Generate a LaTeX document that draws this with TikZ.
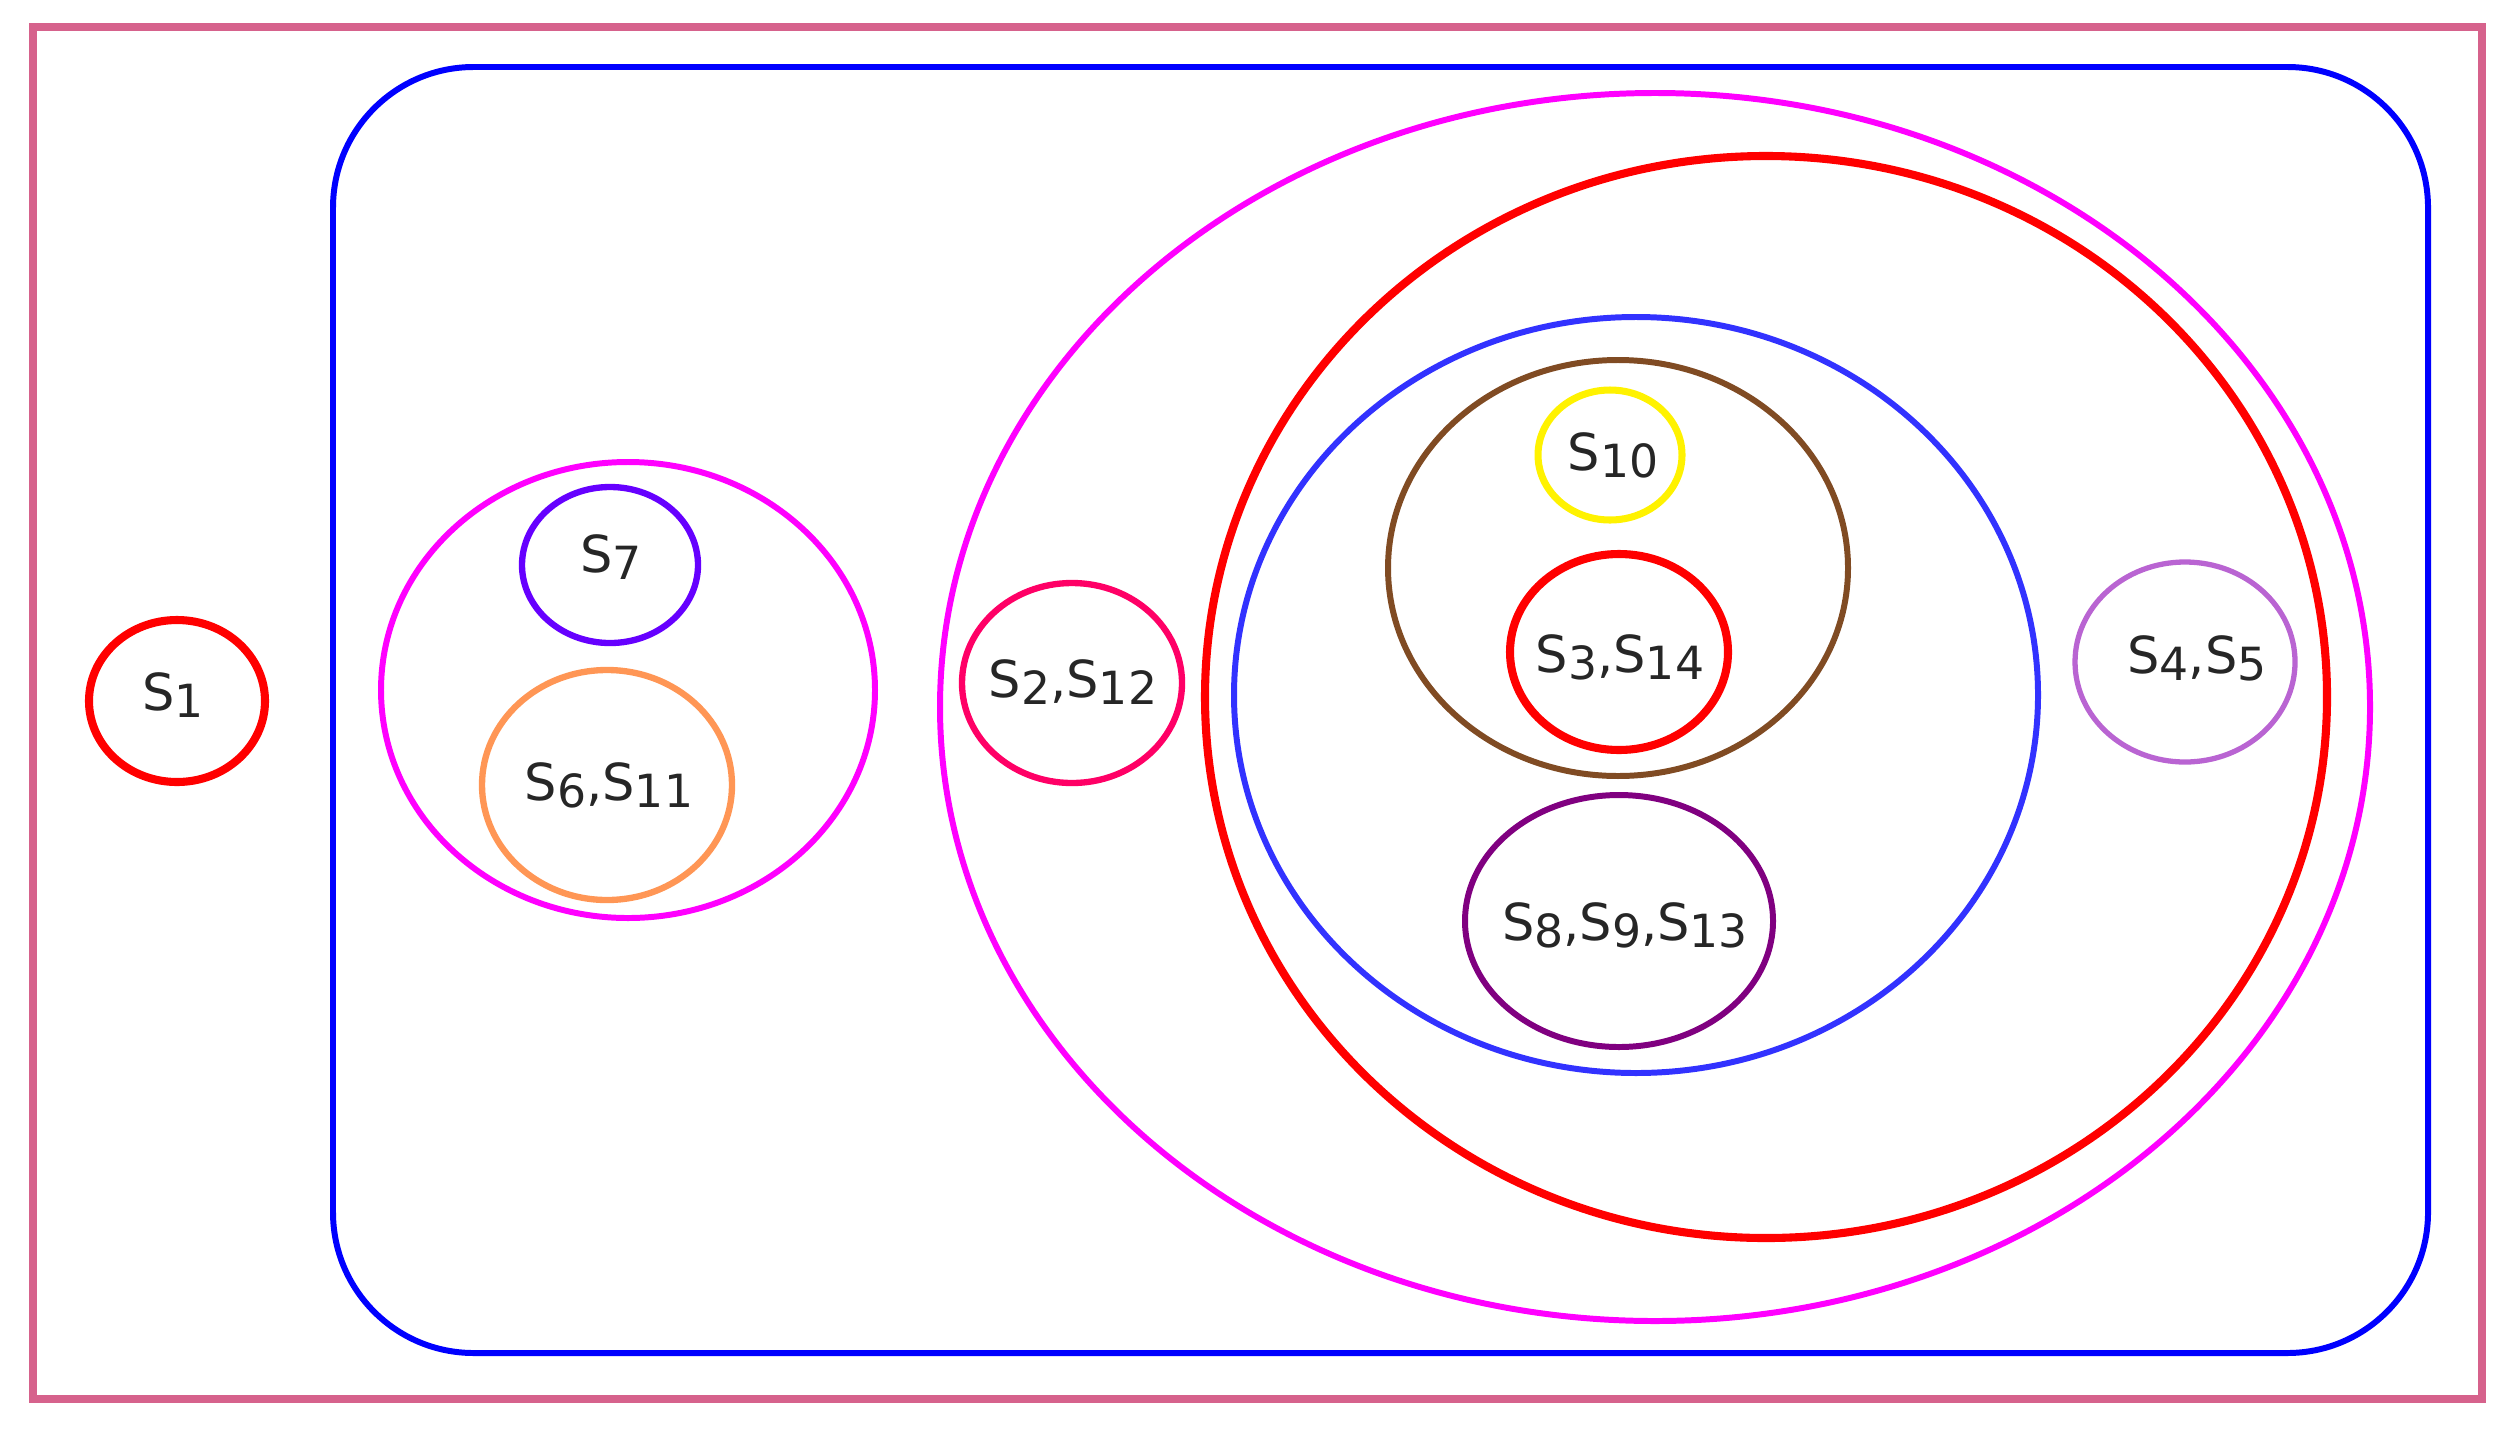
\documentclass[tikz,border=0pt]{standalone}
\usepackage{fontspec}
\setmainfont{DejaVu Sans}
\usepackage{tikz}
\usetikzlibrary{calc}
\usepackage{xcolor}

\definecolor{framepink}{RGB}{214,98,140}
\definecolor{setblue}{RGB}{0,0,255}
\definecolor{ringmagenta}{RGB}{255,0,255}
\definecolor{ringblue}{RGB}{50,50,255}
\definecolor{ringbrown}{RGB}{128,75,35}
\definecolor{ringpurple}{RGB}{128,0,128}
\definecolor{ringorchid}{RGB}{185,100,210}
\definecolor{ringviolet}{RGB}{102,0,255}
\definecolor{ringorange}{RGB}{255,150,85}
\definecolor{ringrose}{RGB}{255,0,102}

\newcommand{\Sn}[1]{S\raisebox{-2pt}{\fontsize{13}{13}\selectfont #1}}

\begin{document}
\begin{tikzpicture}[x=0.01cm, y=-0.01cm,
	lbl/.style={font=\fontsize{14.5}{17}\selectfont, text=black!85, inner sep=0pt}]
	\useasboundingbox (0,0) rectangle (2519,1430);
	% centres
	\coordinate (C1) at (177,701);
	\coordinate (L) at (628,690);
	\coordinate (C7) at (610,565);
	\coordinate (C611) at (607,785);
	\coordinate (C212) at (1072,683);
	\coordinate (M) at (1655,707);
	\coordinate (R) at (1766,697);
	\coordinate (B) at (1636,695);
	\coordinate (W) at (1618,568);
	\coordinate (C10) at (1610,455);
	\coordinate (C314) at (1619,652);
	\coordinate (C8913) at (1619,921);
	\coordinate (C45) at (2185,662);
	% frames
	\draw [framepink, line width=2.3pt] (33,27) rectangle (2482,1399);
	\draw [setblue, line width=1.7pt, rounded corners=40pt] (333,67) rectangle (2428,1353);
	% rings
	\draw [red, line width=2.3pt] (C1) ellipse [x radius=88, y radius=81];
	\draw [ringmagenta, line width=1.7pt] (L) ellipse [x radius=247, y radius=228];
	\draw [ringviolet, line width=1.8pt] (C7) ellipse [x radius=88, y radius=78];
	\draw [ringorange, line width=1.8pt] (C611) ellipse [x radius=125, y radius=115];
	\draw [ringrose, line width=1.8pt] (C212) ellipse [x radius=110, y radius=100];
	\draw [ringmagenta, line width=1.7pt] (M) ellipse [x radius=715, y radius=614];
	\draw [red, line width=2.3pt] (R) ellipse [x radius=561, y radius=541];
	\draw [ringblue, line width=1.7pt] (B) ellipse [x radius=402, y radius=378];
	\draw [ringbrown, line width=1.7pt] (W) ellipse [x radius=230, y radius=208];
	\draw [yellow, line width=2pt] (C10) ellipse [x radius=72, y radius=65];
	\draw [red, line width=2.3pt] (C314) ellipse [x radius=109, y radius=98];
	\draw [ringpurple, line width=1.7pt] (C8913) ellipse [x radius=154, y radius=126];
	\draw [ringorchid, line width=1.5pt] (C45) ellipse [x radius=110, y radius=100];
	% labels
	\node (s1) at ($(C1)+(-4,-6)$) [lbl] {\Sn{1}};
	\node (s7) at ($(C7)+(1,-8)$) [lbl] {\Sn{7}};
	\node (s611) at ($(C611)+(2,0)$) [lbl] {\Sn{6},\Sn{11}};
	\node (s212) at ($(C212)+(1,-1)$) [lbl] {\Sn{2},\Sn{12}};
	\node (s10) at ($(C10)+(3,0)$) [lbl] {\Sn{10}};
	\node (s314) at ($(C314)+(1,5)$) [lbl] {\Sn{3},\Sn{14}};
	\node (s8913) at ($(C8913)+(6,4)$) [lbl] {\Sn{8},\Sn{9},\Sn{13}};
	\node (s45) at ($(C45)+(12,-4)$) [lbl] {\Sn{4},\Sn{5}};
\end{tikzpicture}
\end{document}
